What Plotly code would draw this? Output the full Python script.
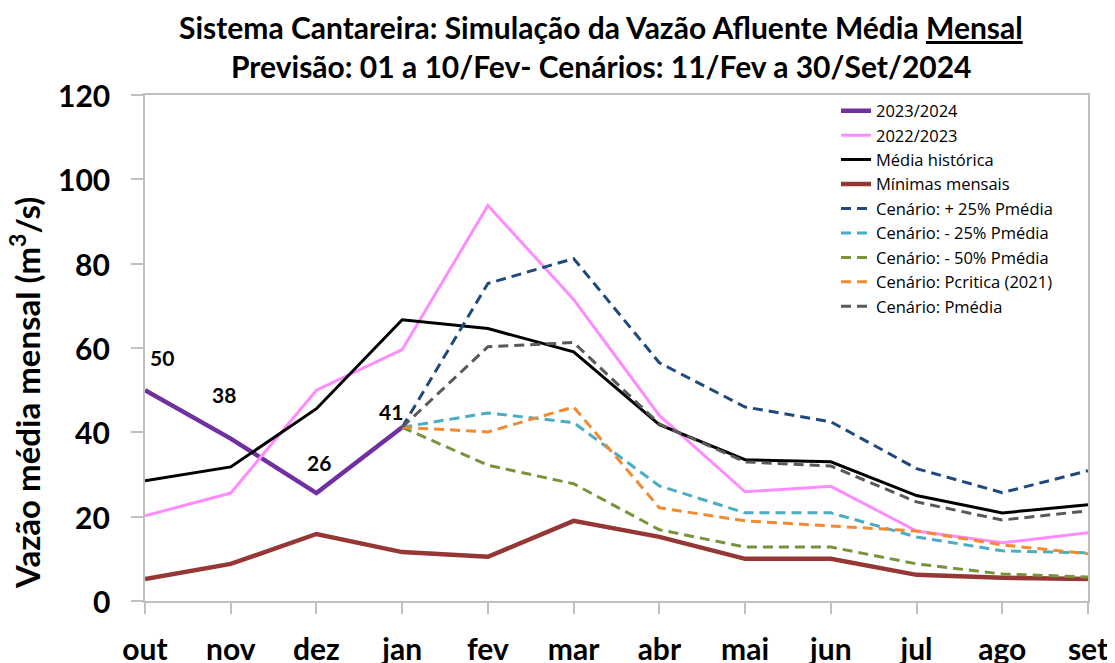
import plotly.graph_objects as go

months = ["out", "nov", "dez", "jan", "fev", "mar", "abr", "mai", "jun", "jul", "ago", "set"]

s2023_2024 = [50, 38.5, 25.6, 41.2, None, None, None, None, None, None, None, None]
s2022_2023 = [20.2, 25.6, 50.0, 59.6, 93.8, 71.5, 44.0, 25.9, 27.2, 16.6, 13.8, 16.2]
media_hist = [28.5, 31.8, 45.6, 66.7, 64.6, 59.1, 41.8, 33.5, 33.0, 25.0, 20.9, 22.8]
minimas = [5.2, 8.8, 15.9, 11.6, 10.5, 19.0, 15.2, 10.0, 10.0, 6.2, 5.5, 5.2]
cen_p25 = [None, None, None, 41.2, 75.3, 81.2, 56.5, 46.0, 42.5, 31.4, 25.7, 30.9]
cen_m25 = [None, None, None, 41.2, 44.6, 42.3, 27.3, 20.9, 20.9, 15.2, 11.9, 11.4]
cen_m50 = [None, None, None, 41.2, 32.2, 27.8, 16.9, 12.8, 12.8, 8.8, 6.4, 5.7]
cen_pcrit = [None, None, None, 41.2, 40.1, 46.0, 22.1, 19.0, 17.8, 16.6, 13.3, 11.2]
cen_pmed = [None, None, None, 41.2, 60.3, 61.3, 42.0, 33.0, 32.0, 23.5, 19.2, 21.4]

labels_2324 = ["50", "38", "26", "41"]
label_shift = [(17, 33), (-7, 44), (3, 31), (-11, 16)]

y_ticks = [0, 20, 40, 60, 80, 100, 120]
y_tick_labels = ["0", "20", "40", "60", "80", "100", "120"]

FONT = "Lato, 'Open Sans', 'Noto Sans', sans-serif"
LEG_FONT = "'Open Sans', Lato, sans-serif"
DASH = "10px,6px"

# the page body adds an 8px margin; compensate so the plot lands at the same pixels
OFF = 8
PL, PR, PT, PB = 145, 1088, 95, 601  # target plot-area pixel box
W, H = 1115 - OFF, 663 - OFF

series = [
    ("2023/2024", s2023_2024, "#7030A0", 4.5, "solid"),
    ("2022/2023", s2022_2023, "#FF8CFF", 3, "solid"),
    ("Média histórica", media_hist, "#000000", 3, "solid"),
    ("Mínimas mensais", minimas, "#953735", 4.5, "solid"),
    ("Cenário: + 25% Pmédia", cen_p25, "#1F497D", 3, DASH),
    ("Cenário: - 25% Pmédia", cen_m25, "#4BACC6", 3, DASH),
    ("Cenário: - 50% Pmédia", cen_m50, "#77933C", 3, DASH),
    ("Cenário: Pcritica (2021)", cen_pcrit, "#F28A30", 3, DASH),
    ("Cenário: Pmédia", cen_pmed, "#595959", 3, DASH),
]

fig = go.Figure()
for name, vals, color, width, dash in series:
    fig.add_trace(go.Scatter(
        x=months, y=vals, name=name, mode="lines",
        line=dict(color=color, width=width, dash=dash),
        connectgaps=False,
    ))

for i, lab in enumerate(labels_2324):
    dx, dy = label_shift[i]
    fig.add_annotation(
        x=months[i], y=s2023_2024[i], text=f"<b>{lab}</b>", showarrow=False,
        xshift=dx, yshift=dy, font=dict(family=FONT, size=21, color="#000000"),
    )

# y-axis tick labels (placed as text next to the axis ticks)
for v, lab in zip(y_ticks, y_tick_labels):
    fig.add_annotation(
        xref="paper", yref="y", x=0, y=v, xshift=-33, xanchor="right", yanchor="middle",
        text=f"<b>{lab}</b>", showarrow=False,
        font=dict(family=FONT, size=30, color="#000000"),
    )

pw = PR - PL
ph = PB - PT
fig.add_annotation(
    xref="paper", yref="paper", x=(601 - PL) / pw, y=1.0, yshift=PT - 27,
    xanchor="center", yanchor="middle",
    text="<b>Sistema Cantareira: Simulação da Vazão Afluente Média <u>Mensal</u></b>",
    showarrow=False, font=dict(family=FONT, size=30, color="#000000"),
)
fig.add_annotation(
    xref="paper", yref="paper", x=(601 - PL) / pw, y=1.0, yshift=PT - 66,
    xanchor="center", yanchor="middle",
    text="<b>Previsão: 01 a 10/Fev- Cenários: 11/Fev a 30/Set/2024</b>",
    showarrow=False, font=dict(family=FONT, size=30, color="#000000"),
)
fig.add_annotation(
    xref="paper", yref="paper", x=-(PL - 25) / pw, y=(PB - 393) / ph,
    xanchor="center", yanchor="middle",
    text="<b>Vazão média mensal (m<sup>3</sup>/s)</b>", textangle=-90,
    showarrow=False, font=dict(family=FONT, size=33, color="#000000"),
)

fig.update_layout(
    width=W, height=H,
    margin=dict(l=PL - OFF, r=W + OFF - PR, t=PT - OFF, b=H + OFF - PB),
    paper_bgcolor="white", plot_bgcolor="white",
    showlegend=True,
    legend=dict(
        x=(836 - PL) / pw, y=1.003, xanchor="left", yanchor="top",
        font=dict(family=LEG_FONT, size=16.5, color="#000000"),
        bgcolor="rgba(255,255,255,0)", borderwidth=0,
        tracegroupgap=0,
    ),
    font=dict(family=FONT),
)
fig.update_xaxes(
    type="category", range=[0, 11], automargin=False,
    showline=True, linecolor="#BFBFBF", linewidth=1.5, mirror=True,
    showgrid=False, zeroline=False,
    ticks="outside", ticklen=11, tickcolor="#BFBFBF", tickwidth=1.5,
    tickfont=dict(family=FONT, size=30, color="#000000", weight="bold"),
    ticklabelstandoff=10,
)
fig.update_yaxes(
    range=[0, 120], tickvals=y_ticks, automargin=False,
    showticklabels=False,
    showline=True, linecolor="#BFBFBF", linewidth=1.5, mirror=True,
    showgrid=False, zeroline=False,
    ticks="outside", ticklen=12, tickcolor="#BFBFBF", tickwidth=1.5,
)

fig.write_html("out.html")
